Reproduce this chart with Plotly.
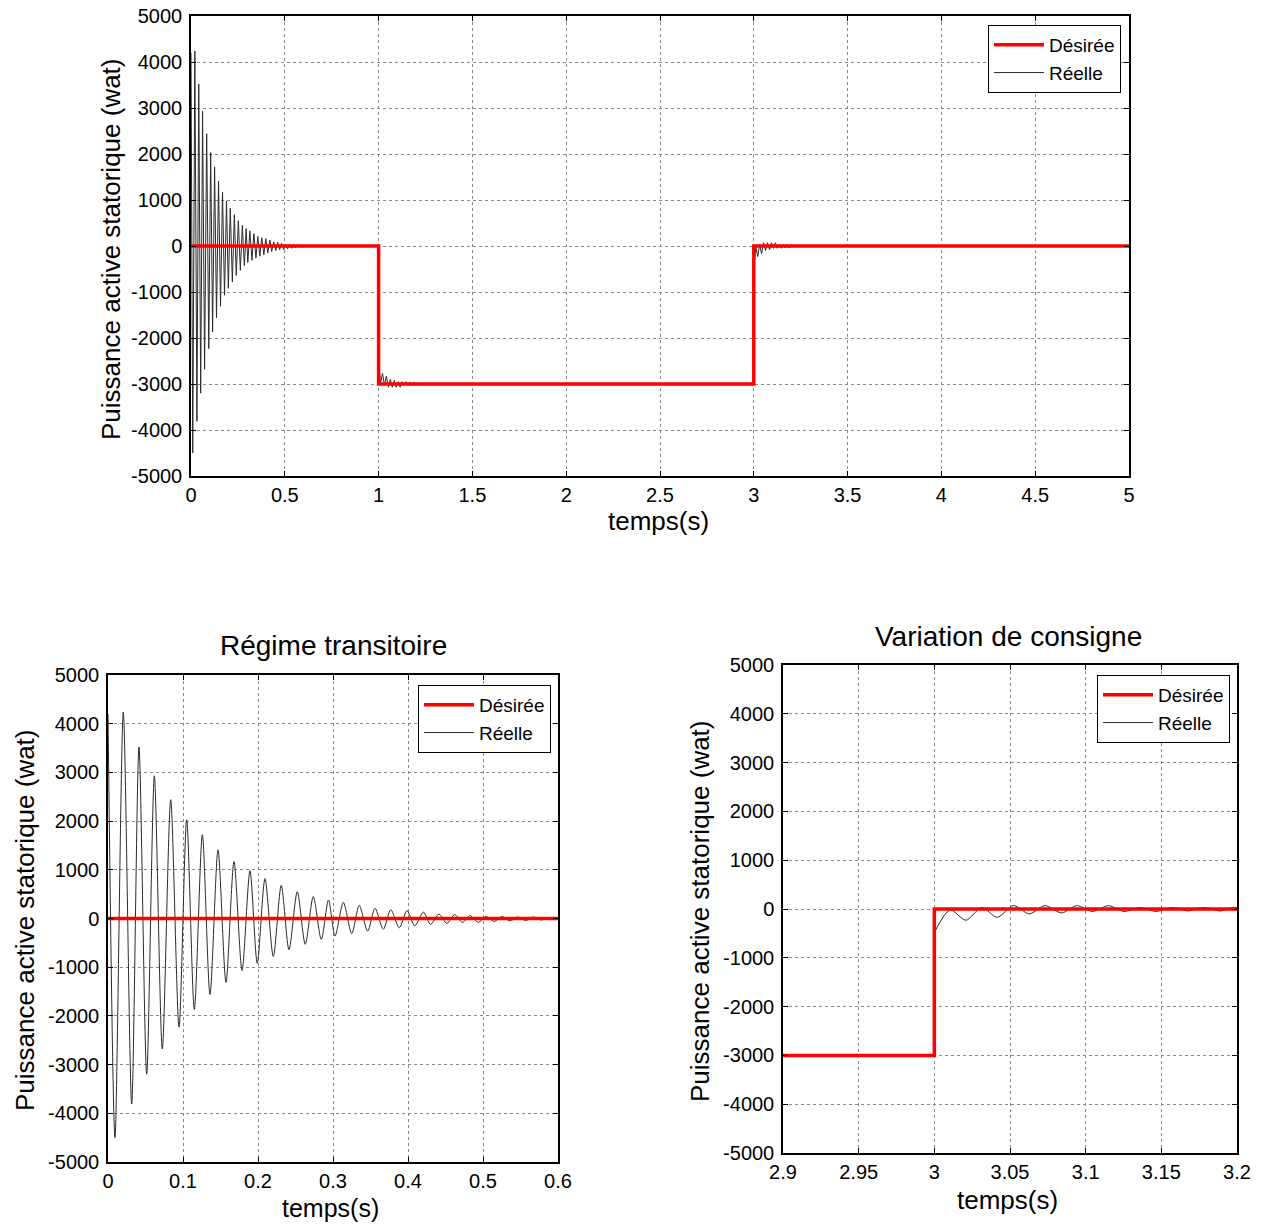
import plotly.graph_objects as go

# ---------------- data ----------------
# Desired (reference) active power
des_t = [0.0, 1.0, 1.0, 3.0, 3.0, 5.0]
des_v = [0.0, 0.0, -3000.0, -3000.0, 0.0, 0.0]

tr_t = [0.0, 0.0093, 0.0204, 0.0316, 0.0413, 0.0516, 0.0618, 0.0724, 0.0836, 0.0947,
        0.1049, 0.1151, 0.1258, 0.1360, 0.1467, 0.1573, 0.1680, 0.1787, 0.1893, 0.1990,
        0.2093, 0.2204, 0.2310, 0.2413, 0.2524, 0.2630, 0.2737, 0.2844, 0.2940, 0.3027,
        0.3138, 0.3250, 0.3350, 0.3462, 0.3560, 0.3671, 0.3770, 0.3884, 0.3987, 0.4090,
        0.4205, 0.4300, 0.4413, 0.4518, 0.4622, 0.4727, 0.4827, 0.4938, 0.5040, 0.5150,
        0.5250, 0.5360, 0.5460, 0.5570, 0.5670, 0.5780, 0.5880, 0.5990]
tr_v = [4200, -4500, 4240, -3810, 3520, -3200, 2930, -2680, 2440, -2230,
        2030, -1870, 1720, -1560, 1410, -1310, 1170, -1070, 980, -920,
        820, -780, 680, -640, 550, -530, 450, -430, 380, -360,
        330, -310, 270, -260, 210, -220, 180, -190, 160, -150,
        130, -120, 90, -100, 80, -80, 60, -80, 40, -60,
        40, -50, 30, -40, 30, -30, 20, -20]

# Real active power around the step down at t = 1 s
s1_t = [0.62, 1.0, 1.0, 1.0104, 1.0209, 1.0313, 1.0416, 1.0522, 1.0628, 1.0731,
        1.0842, 1.0941, 1.1047, 1.1150, 1.1253, 1.1360, 1.1466, 1.1568, 1.1678, 1.1777,
        1.1888, 1.1987, 1.2100, 1.2200]
s1_v = [0, 0, -2520, -2980, -2770, -3030, -2830, -3070, -2900, -3070,
        -2920, -3070, -2950, -3070, -2950, -3030, -2950, -3030, -2960, -3030,
        -2960, -3030, -2980, -3000]

# Real active power around the step up at t = 3 s
s3_t = [3.0, 3.0, 3.0104, 3.0209, 3.0313, 3.0416, 3.0522, 3.0628, 3.0731,
        3.0842, 3.0941, 3.1047, 3.1150, 3.1253, 3.1360, 3.1466, 3.1568, 3.1678, 3.1777,
        3.1888, 3.1987, 3.2100, 3.2200, 5.0]
s3_v = [-3000, -480, -20, -230, 30, -170, 70, -100, 70,
        -80, 70, -50, 70, -50, 30, -50, 30, -40, 30,
        -40, 30, -20, 0, 0]

real_t = tr_t + s1_t + s3_t
real_v = tr_v + s1_v + s3_v

y_ticks = [-5000, -4000, -3000, -2000, -1000, 0, 1000, 2000, 3000, 4000, 5000]
x1_ticks = [0, 0.5, 1, 1.5, 2, 2.5, 3, 3.5, 4, 4.5, 5]
x2_ticks = [0, 0.1, 0.2, 0.3, 0.4, 0.5, 0.6]
x3_ticks = [2.9, 2.95, 3.0, 3.05, 3.1, 3.15, 3.2]
x3_labels = ["2.9", "2.95", "3", "3.05", "3.1", "3.15", "3.2"]

# ---------------- figure ----------------
OFF = 8                      # page body margin of the browser
W, H = 1266 - 2 * OFF, 1230 - 2 * OFF
FONT = "Liberation Sans, Arial, Helvetica, sans-serif"
RED = "#ff0000"
BLK = "#2b2b2b"

fig = go.Figure()

# index where the step-up oscillation starts (first point after the vertical jump)
k3 = len(tr_t) + len(s1_t) + 1


def real_trace(x, y, xa, ya, lg, shape, show):
    return go.Scatter(x=x, y=y, mode="lines", name="Réelle",
                      line=dict(color=BLK, width=1, shape=shape, smoothing=0.8),
                      xaxis=xa, yaxis=ya, legend=lg, legendrank=2,
                      legendgroup="reel_" + lg, showlegend=show, hoverinfo="skip")


def des_trace(xa, ya, lg):
    return go.Scatter(x=des_t, y=des_v, mode="lines", name="Désirée",
                      line=dict(color=RED, width=3.5),
                      xaxis=xa, yaxis=ya, legend=lg, legendrank=1,
                      hoverinfo="skip")


# top panel: full record
fig.add_trace(real_trace(real_t, real_v, "x", "y", "legend", "linear", True))
fig.add_trace(des_trace("x", "y", "legend"))

# bottom-left: start-up transient
fig.add_trace(real_trace(tr_t, tr_v, "x2", "y2", "legend2", "spline", True))
fig.add_trace(des_trace("x2", "y2", "legend2"))

# bottom-right: set-point change (flat part + jump linear, oscillation smooth)
fig.add_trace(real_trace(real_t[:k3 + 1], real_v[:k3 + 1], "x3", "y3", "legend3", "linear", True))
fig.add_trace(real_trace(real_t[k3:], real_v[k3:], "x3", "y3", "legend3", "spline", False))
fig.add_trace(des_trace("x3", "y3", "legend3"))


def px_x(p):
    return (p - OFF) / W


def px_y(p):
    return 1 - (p - OFF) / H


axis_common = dict(
    showline=True, linecolor="black", linewidth=1.5, mirror="ticks",
    ticks="inside", ticklen=5, tickcolor="black", tickwidth=1,
    showgrid=True, gridcolor="#8a8a8a", griddash="dot", gridwidth=1,
    zeroline=False, tickfont=dict(family=FONT, size=20, color="black"),
    fixedrange=True, automargin=False, ticklabeloverflow="allow",
)

# panel pixel boxes in the screenshot: (left, right, top, bottom)
boxes = {
    "1": (191, 1129, 16, 476),
    "2": (108, 558, 675, 1162),
    "3": (783, 1237, 665, 1153),
}

xranges = {"1": [0, 5], "2": [0, 0.6], "3": [2.9, 3.2]}
xticks = {"1": (x1_ticks, [f"{v:g}" for v in x1_ticks]),
          "2": (x2_ticks, [f"{v:g}" for v in x2_ticks]),
          "3": (x3_ticks, x3_labels)}

layout = {}
for k, (l, r, t, b) in boxes.items():
    xn = "xaxis" if k == "1" else f"xaxis{k}"
    yn = "yaxis" if k == "1" else f"yaxis{k}"
    ya_ref = "y" if k == "1" else f"y{k}"
    xa_ref = "x" if k == "1" else f"x{k}"
    layout[xn] = dict(axis_common, domain=[px_x(l), px_x(r)], range=xranges[k],
                      tickmode="array", tickvals=xticks[k][0], ticktext=xticks[k][1],
                      anchor=ya_ref, ticklabelstandoff=0)
    layout[yn] = dict(axis_common, domain=[px_y(b), px_y(t)], range=[-5000, 5000],
                      tickmode="array", tickvals=y_ticks,
                      ticktext=[str(v) for v in y_ticks],
                      anchor=xa_ref, ticklabelstandoff=3)

legend_common = dict(bgcolor="white", bordercolor="black", borderwidth=1,
                     font=dict(family=FONT, size=19, color="black"),
                     xanchor="right", yanchor="top", tracegroupgap=0,
                     itemwidth=50)

fig.update_layout(
    width=W, height=H,
    margin=dict(l=0, r=0, t=0, b=0, pad=0, autoexpand=False),
    paper_bgcolor="white", plot_bgcolor="white",
    font=dict(family=FONT, color="black"),
    legend=dict(legend_common, x=px_x(1121), y=px_y(25)),
    legend2=dict(legend_common, x=px_x(551), y=px_y(685)),
    legend3=dict(legend_common, x=px_x(1230), y=px_y(675)),
    **layout,
)

ann = [
    # y-axis titles
    dict(text="Puissance active statorique (wat)", x=px_x(111), y=px_y(249), textangle=-90, size=26),
    dict(text="Puissance active statorique (wat)", x=px_x(25), y=px_y(920), textangle=-90, size=26),
    dict(text="Puissance active statorique (wat)", x=px_x(700), y=px_y(911), textangle=-90, size=26),
    # x-axis titles
    dict(text="temps(s)", x=px_x(658), y=px_y(521), textangle=0, size=26),
    dict(text="temps(s)", x=px_x(330), y=px_y(1208), textangle=0, size=25),
    dict(text="temps(s)", x=px_x(1007), y=px_y(1200), textangle=0, size=26),
    # panel titles
    dict(text="Régime transitoire", x=px_x(333), y=px_y(645), textangle=0, size=28),
    dict(text="Variation de consigne", x=px_x(1008), y=px_y(636), textangle=0, size=28),
]
for a in ann:
    fig.add_annotation(text=a["text"], x=a["x"], y=a["y"], xref="paper", yref="paper",
                       xanchor="center", yanchor="middle", showarrow=False,
                       textangle=a["textangle"],
                       font=dict(family=FONT, size=a["size"], color="black"))

fig.write_html("out.html")
